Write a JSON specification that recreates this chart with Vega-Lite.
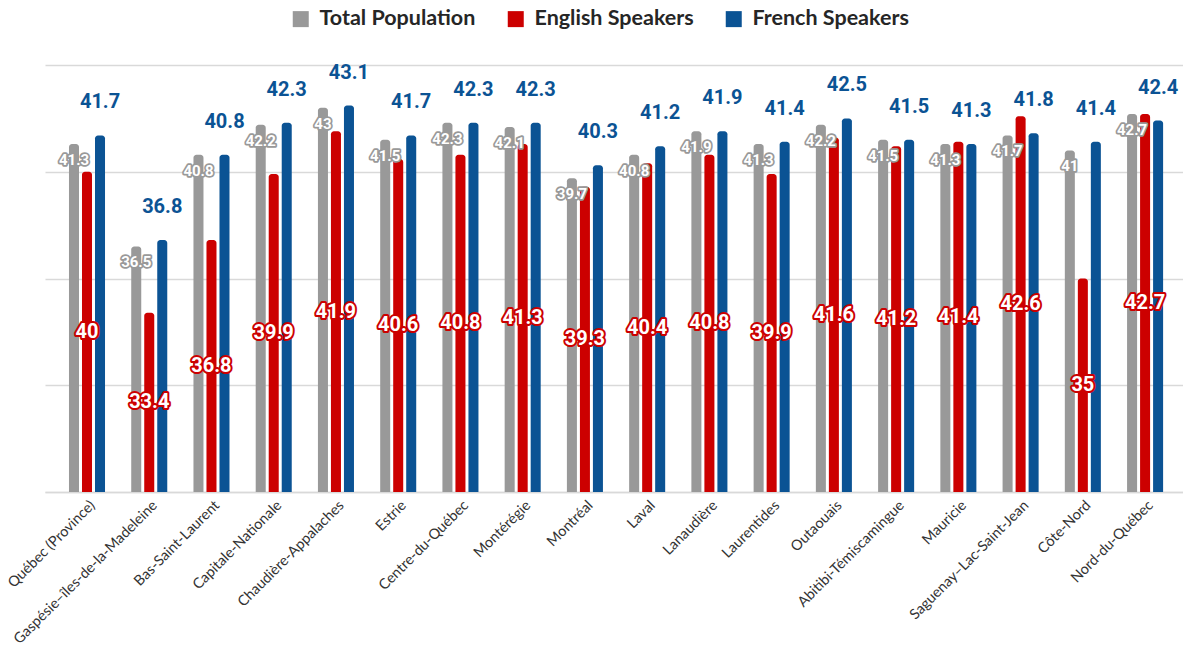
{
  "$schema": "https://vega.github.io/schema/vega-lite/v6.json",
  "autosize": {"type": "none"},
  "padding": {"left": 45, "top": 65, "right": 0, "bottom": 154},
  "width": 1138,
  "height": 427,
  "background": "white",
  "config": {"view": {"stroke": null}},
  "data": {"values": [
    {"region": "Québec (Province)", "series": "Total Population", "value": 41.3},
    {"region": "Québec (Province)", "series": "English Speakers", "value": 40},
    {"region": "Québec (Province)", "series": "French Speakers", "value": 41.7},
    {"region": "Gaspésie–îles-de-la-Madeleine", "series": "Total Population", "value": 36.5},
    {"region": "Gaspésie–îles-de-la-Madeleine", "series": "English Speakers", "value": 33.4},
    {"region": "Gaspésie–îles-de-la-Madeleine", "series": "French Speakers", "value": 36.8},
    {"region": "Bas-Saint-Laurent", "series": "Total Population", "value": 40.8},
    {"region": "Bas-Saint-Laurent", "series": "English Speakers", "value": 36.8},
    {"region": "Bas-Saint-Laurent", "series": "French Speakers", "value": 40.8},
    {"region": "Capitale-Nationale", "series": "Total Population", "value": 42.2},
    {"region": "Capitale-Nationale", "series": "English Speakers", "value": 39.9},
    {"region": "Capitale-Nationale", "series": "French Speakers", "value": 42.3},
    {"region": "Chaudière-Appalaches", "series": "Total Population", "value": 43},
    {"region": "Chaudière-Appalaches", "series": "English Speakers", "value": 41.9},
    {"region": "Chaudière-Appalaches", "series": "French Speakers", "value": 43.1},
    {"region": "Estrie", "series": "Total Population", "value": 41.5},
    {"region": "Estrie", "series": "English Speakers", "value": 40.6},
    {"region": "Estrie", "series": "French Speakers", "value": 41.7},
    {"region": "Centre-du-Québec", "series": "Total Population", "value": 42.3},
    {"region": "Centre-du-Québec", "series": "English Speakers", "value": 40.8},
    {"region": "Centre-du-Québec", "series": "French Speakers", "value": 42.3},
    {"region": "Montérégie", "series": "Total Population", "value": 42.1},
    {"region": "Montérégie", "series": "English Speakers", "value": 41.3},
    {"region": "Montérégie", "series": "French Speakers", "value": 42.3},
    {"region": "Montréal", "series": "Total Population", "value": 39.7},
    {"region": "Montréal", "series": "English Speakers", "value": 39.3},
    {"region": "Montréal", "series": "French Speakers", "value": 40.3},
    {"region": "Laval", "series": "Total Population", "value": 40.8},
    {"region": "Laval", "series": "English Speakers", "value": 40.4},
    {"region": "Laval", "series": "French Speakers", "value": 41.2},
    {"region": "Lanaudière", "series": "Total Population", "value": 41.9},
    {"region": "Lanaudière", "series": "English Speakers", "value": 40.8},
    {"region": "Lanaudière", "series": "French Speakers", "value": 41.9},
    {"region": "Laurentides", "series": "Total Population", "value": 41.3},
    {"region": "Laurentides", "series": "English Speakers", "value": 39.9},
    {"region": "Laurentides", "series": "French Speakers", "value": 41.4},
    {"region": "Outaouais", "series": "Total Population", "value": 42.2},
    {"region": "Outaouais", "series": "English Speakers", "value": 41.6},
    {"region": "Outaouais", "series": "French Speakers", "value": 42.5},
    {"region": "Abitibi-Témiscamingue", "series": "Total Population", "value": 41.5},
    {"region": "Abitibi-Témiscamingue", "series": "English Speakers", "value": 41.2},
    {"region": "Abitibi-Témiscamingue", "series": "French Speakers", "value": 41.5},
    {"region": "Mauricie", "series": "Total Population", "value": 41.3},
    {"region": "Mauricie", "series": "English Speakers", "value": 41.4},
    {"region": "Mauricie", "series": "French Speakers", "value": 41.3},
    {"region": "Saguenay–Lac-Saint-Jean", "series": "Total Population", "value": 41.7},
    {"region": "Saguenay–Lac-Saint-Jean", "series": "English Speakers", "value": 42.6},
    {"region": "Saguenay–Lac-Saint-Jean", "series": "French Speakers", "value": 41.8},
    {"region": "Côte-Nord", "series": "Total Population", "value": 41},
    {"region": "Côte-Nord", "series": "English Speakers", "value": 35},
    {"region": "Côte-Nord", "series": "French Speakers", "value": 41.4},
    {"region": "Nord-du-Québec", "series": "Total Population", "value": 42.7},
    {"region": "Nord-du-Québec", "series": "English Speakers", "value": 42.7},
    {"region": "Nord-du-Québec", "series": "French Speakers", "value": 42.4}
  ]},
  "encoding": {
    "x": {
      "field": "region", "type": "nominal", "sort": null,
      "scale": {"paddingInner": 0.373, "paddingOuter": 0.3285, "align": 0.55},
      "axis": {
        "title": null, "labelAngle": -45, "labelFont": "Lato", "labelFontSize": 14.5,
        "labelColor": "#333333", "ticks": false, "labelPadding": 6, "labelOffset": 1, "labelLimit": 0,
        "domainColor": "#d9d9d9", "domainWidth": 1.5, "grid": false
      }
    },
    "xOffset": {
      "field": "series", "type": "nominal",
      "scale": {"domain": ["Total Population", "English Speakers", "French Speakers"], "paddingInner": 0.23, "paddingOuter": 0.115}
    }
  },
  "layer": [
    {
      "mark": {"type": "bar", "cornerRadiusTopLeft": 3, "cornerRadiusTopRight": 3},
      "encoding": {
        "y": {
          "field": "value", "type": "quantitative",
          "scale": {"domain": [25, 45], "zero": false, "nice": false},
          "axis": {"title": null, "labels": false, "ticks": false, "domain": false, "values": [25, 30, 35, 40, 45], "gridColor": "#d9d9d9", "gridWidth": 1.5}
        },
        "y2": {"datum": 25},
        "color": {
          "field": "series", "type": "nominal",
          "scale": {"domain": ["Total Population", "English Speakers", "French Speakers"], "range": ["#999999", "#cc0000", "#0b5394"]},
          "legend": {
            "orient": "none", "legendX": 245, "legendY": -57, "direction": "horizontal", "title": null,
            "symbolType": "square", "symbolSize": 256, "symbolStrokeWidth": 0,
            "labelFont": "Lato", "labelFontSize": 21.5, "labelFontWeight": "bold", "labelColor": "#262626",
            "labelOffset": 8, "columnPadding": 29, "padding": 0,
            "labelExpr": "datum.label === 'Total Population' ? datum.label : '\u00a0\u00a0\u00a0\u00a0' + datum.label"
          }
        }
      }
    },
    {
      "transform": [{"filter": "datum.series === 'Total Population'"}],
      "mark": {"type": "text", "font": "Roboto", "fontWeight": "bold", "fontSize": 15, "dy": 16, "baseline": "middle", "fill": "#999999", "stroke": "#999999", "strokeWidth": 3.5, "strokeJoin": "round"},
      "encoding": {
        "y": {"field": "value", "type": "quantitative", "scale": {"domain": [25, 45], "zero": false, "nice": false}, "axis": null},
        "text": {"field": "value", "type": "quantitative"}
      }
    },
    {
      "transform": [{"filter": "datum.series === 'Total Population'"}],
      "mark": {"type": "text", "font": "Roboto", "fontWeight": "bold", "fontSize": 15, "dy": 16, "baseline": "middle", "fill": "#ffffff"},
      "encoding": {
        "y": {"field": "value", "type": "quantitative", "scale": {"domain": [25, 45], "zero": false, "nice": false}, "axis": null},
        "text": {"field": "value", "type": "quantitative"}
      }
    },
    {
      "transform": [{"filter": "datum.series === 'English Speakers'"}],
      "mark": {"type": "text", "font": "Roboto", "fontWeight": "bold", "fontSize": 20, "baseline": "middle", "fill": "#cc0000", "stroke": "#cc0000", "strokeWidth": 4, "strokeJoin": "round"},
      "encoding": {
        "y": {"field": "value", "type": "quantitative", "scale": {"domain": [25, 65], "zero": false, "nice": false}, "axis": null},
        "text": {"field": "value", "type": "quantitative"}
      }
    },
    {
      "transform": [{"filter": "datum.series === 'English Speakers'"}],
      "mark": {"type": "text", "font": "Roboto", "fontWeight": "bold", "fontSize": 20, "baseline": "middle", "fill": "#ffffff"},
      "encoding": {
        "y": {"field": "value", "type": "quantitative", "scale": {"domain": [25, 65], "zero": false, "nice": false}, "axis": null},
        "text": {"field": "value", "type": "quantitative"}
      }
    },
    {
      "transform": [{"filter": "datum.series === 'French Speakers'"}],
      "mark": {"type": "text", "font": "Roboto", "fontWeight": "bold", "fontSize": 20, "baseline": "middle", "dy": -33, "fill": "#0b5394"},
      "encoding": {
        "y": {"field": "value", "type": "quantitative", "scale": {"domain": [25, 45], "zero": false, "nice": false}, "axis": null},
        "text": {"field": "value", "type": "quantitative"}
      }
    }
  ],
  "resolve": {"scale": {"y": "independent"}}
}
